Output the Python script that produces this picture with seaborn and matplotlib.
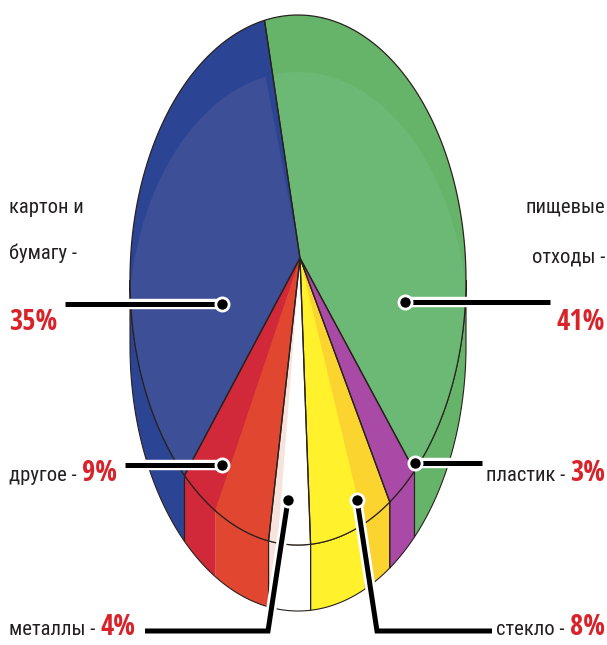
import numpy as np
import pandas as pd
import matplotlib
matplotlib.use("Agg")
import matplotlib.pyplot as plt
import matplotlib.patheffects as pe
from matplotlib import font_manager
from matplotlib.font_manager import FontProperties
from matplotlib.ft2font import FT2Font
from matplotlib.patches import Polygon, Ellipse
import seaborn as sns

# ---- data ----
categories = ["пищевые\nотходы", "пластик", "стекло", "металлы", "другое", "картон и\nбумагу"]
shares = [41, 3, 8, 4, 9, 35]
pct_labels = [f"{v}%" for v in shares]

# ---- style ----
top_colors = ["#6cb975", "#a94ba6", "#fff22c", "#ffffff", "#e14630", "#3d4f96"]
rim_colors = ["#66b46a", "#a94ba6", "#fff22c", "#ffffff", "#e14630", "#2b4594"]
strip_colors = ["#66b46a", "#a94ba6", "#fcd430", "#f6e4dc", "#d1283a", "#2b4594"]
strip_frac = [0.0, 0.0, 0.35, 0.22, 0.4, 0.025]
strip_side = ["end", "end", "start", "end", "end", "end"]

# label layout: side, baseline of each text line, baseline of the percent
label_side = ["right", "right", "right", "left", "left", "left"]
label_base = [[213, 262], [481], [635], [635], [481], [213, 259]]
pct_base = [330, 481, 635, 635, 481, 330]
connectors = [
    [(405, 302), (550, 302)],
    [(415, 463), (482, 463)],
    [(357, 500), (377, 631), (492, 631)],
    [(288, 500), (268, 631), (145, 631)],
    [(222, 465), (125, 465)],
    [(222, 304), (65, 304)],
]

df = pd.DataFrame({"category": categories, "share": shares, "pct": pct_labels})

sns.set_theme(style="white")
plt.rcParams["font.family"] = ["DejaVu Sans"]

text_color = "#231f20"
pct_color = "#d8232a"
edge = "#2a211e"

# pie geometry (pixels, y down)
cx, cy, a, b, depth = 298, 280, 168, 265, 66
apex = (300, 258)
start = -11.5

fig = plt.figure(figsize=(6.07, 6.45), dpi=100)
ax = fig.add_axes([0, 0, 1, 1])
ax.set_xlim(0, 607)
ax.set_ylim(645, 0)
ax.axis("off")

renderer = fig.canvas.get_renderer()
inv = ax.transData.inverted()


def width_of(t):
    bb = t.get_window_extent(renderer)
    (x0, _), (x1, _) = inv.transform([[bb.x0, bb.y0], [bb.x1, bb.y0]])
    return abs(x1 - x0)


def weight_num(w):
    return w if isinstance(w, (int, float)) else font_manager.weight_dict.get(w, 400)


SANS = ("Noto Sans", "Roboto", "Open Sans", "Lato", "Inter", "Liberation Sans", "DejaVu Sans")
SKIP = ("Mono", "Symbol", "Math", "Display", "Emoji", "CJK", "Serif")


def narrowest(sample, bold):
    # the original uses a compressed grotesque: take the narrowest installed sans face
    best, best_w = FontProperties(family="DejaVu Sans", weight="bold" if bold else "normal"), None
    for f in font_manager.fontManager.ttflist:
        if not f.name.startswith(SANS) or any(k in f.name for k in SKIP):
            continue
        if f.style != "normal" or not f.fname.lower().endswith((".ttf", ".otf")):
            continue
        w = weight_num(f.weight)
        if (bold and not 600 <= w <= 800) or (not bold and not 350 <= w <= 450):
            continue
        try:
            cmap = FT2Font(f.fname).get_charmap()
        except Exception:
            continue
        if not all(ord(c) in cmap for c in sample if c != " "):
            continue
        t = ax.text(0, 0, sample, fontproperties=FontProperties(fname=f.fname, size=10))
        tw = width_of(t)
        t.remove()
        if best_w is None or tw < best_w:
            best, best_w = FontProperties(fname=f.fname), tw
    return best


reg_font = narrowest("металлы пищевые -%", False)
pct_font = narrowest("0123456789%", True)


def fitted(fp, sample, target):
    probe_fp = fp.copy()
    probe_fp.set_size(10)
    probe = ax.text(0, 0, sample, fontproperties=probe_fp)
    w = width_of(probe)
    probe.remove()
    out = fp.copy()
    out.set_size(10 * target / w)
    return out


reg_fp = fitted(reg_font, "металлы -", 86)
pct_fp = fitted(pct_font, "35%", 48)


def rim(t0, t1, dy=0, n=90):
    t = np.radians(np.linspace(t0, t1, n))
    return np.column_stack([cx + a * np.sin(t), cy - b * np.cos(t) + dy])


def top_poly(t0, t1):
    return np.vstack([[apex], rim(t0, t1)])


def side_poly(t0, t1):
    lo, hi = max(t0, 90), min(t1, 270)
    if hi <= lo:
        return None
    return np.vstack([rim(lo, hi), rim(lo, hi, depth)[::-1]])


edges = start + 360 * np.concatenate([[0], np.cumsum(df["share"]) / df["share"].sum()])

segments = []
for i in range(len(df)):
    t0, t1 = edges[i], edges[i + 1]
    w = (t1 - t0) * strip_frac[i]
    if strip_side[i] == "end":
        base_rng, strip_rng = (t0, t1 - w), (t1 - w, t1)
    else:
        base_rng, strip_rng = (t0 + w, t1), (t0, t0 + w)
    segments.append((i, base_rng, strip_rng))

# side walls
for i, base_rng, strip_rng in segments:
    for rng, col in [(base_rng, rim_colors[i]), (strip_rng, strip_colors[i])]:
        poly = side_poly(*rng)
        if poly is not None:
            ax.add_patch(Polygon(poly, closed=True, fc=col, ec="none", zorder=1))
    poly = side_poly(edges[i], edges[i + 1])
    if poly is not None:
        ax.add_patch(Polygon(poly, closed=True, fc="none", ec=edge, lw=0.8, zorder=2))

# top faces
inner = Ellipse((cx, cy + 50), 2 * 170, 2 * 258, transform=ax.transData)
for i, base_rng, strip_rng in segments:
    full = top_poly(edges[i], edges[i + 1])
    ax.add_patch(Polygon(full, closed=True, fc=rim_colors[i], ec="none", zorder=3))
    light = Polygon(full, closed=True, fc=top_colors[i], ec="none", zorder=4)
    ax.add_patch(light)
    light.set_clip_path(inner)
    if strip_rng[1] > strip_rng[0]:
        ax.add_patch(Polygon(top_poly(*strip_rng), closed=True, fc=strip_colors[i],
                             ec="none", zorder=5))
    ax.add_patch(Polygon(full, closed=True, fc="none", ec=edge, lw=0.9, zorder=6))

# connectors and dots
halo = [pe.Stroke(linewidth=7.5, foreground="white"), pe.Normal()]
for path in connectors:
    xs, ys = zip(*path)
    ax.plot(xs, ys, color="black", lw=3.6, solid_capstyle="butt",
            solid_joinstyle="miter", path_effects=halo, zorder=8)
    ax.plot(xs[0], ys[0], "o", ms=9.5, mfc="black", mec="white", mew=2, zorder=9)

# labels
for i, row in df.iterrows():
    lines = row["category"].split("\n")
    lines[-1] = lines[-1] + " -"
    single = len(lines) == 1
    if label_side[i] == "right":
        p = ax.text(605, pct_base[i], row["pct"], ha="right", va="baseline",
                    fontproperties=pct_fp, color=pct_color, zorder=10)
        x_end = 605 - width_of(p) - 5 if single else 605
        for txt, yb in zip(lines, label_base[i]):
            ax.text(x_end, yb, txt, ha="right", va="baseline", fontproperties=reg_fp,
                    color=text_color, zorder=10)
    else:
        x_pct = 9
        for txt, yb in zip(lines, label_base[i]):
            t = ax.text(9, yb, txt, ha="left", va="baseline", fontproperties=reg_fp,
                        color=text_color, zorder=10)
            if single:
                x_pct = 9 + width_of(t) + 5
        ax.text(x_pct, pct_base[i], row["pct"], ha="left", va="baseline",
                fontproperties=pct_fp, color=pct_color, zorder=10)

fig.savefig("out.png", dpi=100)
